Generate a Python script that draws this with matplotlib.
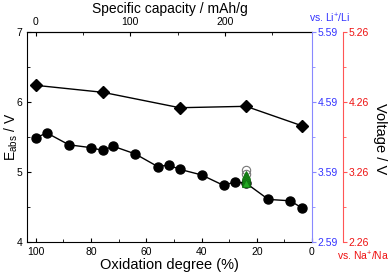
import matplotlib
matplotlib.use("Agg")
import matplotlib.pyplot as plt

plt.rcParams['font.family'] = ['Liberation Sans', 'DejaVu Sans']
plt.rcParams['mathtext.fontset'] = 'custom'
plt.rcParams['mathtext.rm'] = 'Liberation Sans'
plt.rcParams['mathtext.it'] = 'Liberation Sans'

# diamonds (upper curve)
ox_d = [100, 75.7, 47.9, 23.9, 3.5]
e_d = [6.24, 6.14, 5.92, 5.94, 5.66]

# circles (lower curve)
ox_c = [100, 96, 88, 80.1, 75.8, 72, 64, 55.9, 51.9, 47.9, 40, 32, 28, 23.8, 15.8, 7.9, 3.7]
e_c = [5.49, 5.56, 5.39, 5.35, 5.31, 5.37, 5.26, 5.08, 5.10, 5.04, 4.96, 4.81, 4.86, 4.84, 4.61, 4.59, 4.49]

# cluster at ~24 %
ox_o = [23.8, 23.8]
e_o = [5.03, 4.97]
ox_t = [23.8, 23.8, 23.8, 23.8, 23.8]
e_t = [4.96, 4.93, 4.90, 4.87, 4.84]

li_off = 1.41
na_off = 1.74
cap_per_ox = 2.92
fs_tick = 7.5

fig = plt.figure(figsize=(3.9, 2.77), dpi=100)
ax = fig.add_axes([0.0705, 0.126, 0.7295, 0.758])

ax.plot(ox_d, e_d, '-', color='black', lw=1, marker='D', ms=6.5, mfc='black', mec='black', zorder=3)
ax.plot(ox_c, e_c, '-', color='black', lw=1, marker='o', ms=6.5, mfc='black', mec='black', zorder=3)
ax.plot(ox_o, e_o, 'o', ms=6, mfc='none', mec='#777777', mew=0.8, zorder=4)
ax.plot(ox_t, e_t, '^', ms=6, mfc='#22aa22', mec='#117711', mew=0.8, zorder=5)

ax.set_xlim(103, 0)
ax.set_ylim(4, 7)
ax.set_xticks([100, 80, 60, 40, 20, 0])
ax.set_xticks(range(0, 101, 10), minor=True)
ax.set_yticks([4, 5, 6, 7])
ax.set_yticks([4.5, 5.5, 6.5], minor=True)
ax.tick_params(which='both', direction='in', labelsize=fs_tick, top=False, right=False)
ax.tick_params(which='major', length=3)
ax.tick_params(which='minor', length=2)
ax.set_xlabel('Oxidation degree (%)', fontsize=10.5, labelpad=1)
ax.set_ylabel('E$_{\\mathrm{abs}}$ / V', fontsize=10, va='center')
ax.yaxis.set_label_coords(-0.058, 0.5)
ax.spines['right'].set_visible(False)

# top axis: specific capacity
top = ax.secondary_xaxis('top', functions=(lambda x: (100 - x) * cap_per_ox,
                                           lambda c: 100 - c / cap_per_ox))
top.set_xticks([0, 100, 200])
top.set_xticks([50, 150, 250], minor=True)
top.tick_params(which='both', direction='in', labelsize=fs_tick)
top.tick_params(which='major', length=3)
top.tick_params(which='minor', length=2)
top.set_xlabel('Specific capacity / mAh/g', fontsize=10, labelpad=3)

# vs Li axis
ax_li = ax.twinx()
ax_li.set_ylim(4 - li_off, 7 - li_off)
ax_li.set_yticks([2.59, 3.59, 4.59, 5.59])
ax_li.set_yticks([3.09, 4.09, 5.09], minor=True)
for s in ['left', 'top', 'bottom']:
    ax_li.spines[s].set_visible(False)
ax_li.spines['right'].set_color('#8888ff')
ax_li.tick_params(which='both', direction='out', colors='#8888ff', labelcolor='#3333ff', labelsize=fs_tick, pad=1)
ax_li.tick_params(which='major', length=3)
ax_li.tick_params(which='minor', length=2)

# vs Na axis
ax_na = ax.twinx()
ax_na.set_ylim(4 - na_off, 7 - na_off)
ax_na.set_yticks([2.26, 3.26, 4.26, 5.26])
ax_na.set_yticks([2.76, 3.76, 4.76], minor=True)
for s in ['left', 'top', 'bottom']:
    ax_na.spines[s].set_visible(False)
ax_na.spines['right'].set_position(('axes', 1.109))
ax_na.spines['right'].set_color('#ff5555')
ax_na.tick_params(which='both', direction='out', colors='#ff5555', labelcolor='#ee1111', labelsize=fs_tick, pad=1)
ax_na.tick_params(which='major', length=3)
ax_na.tick_params(which='minor', length=2)

fig.text(0.975, 0.5, 'Voltage / V', rotation=270, fontsize=10.5, ha='center', va='center')
fig.text(0.846, 0.935, 'vs. Li$^{+}$/Li', color='#3333ff', fontsize=fs_tick, ha='center', va='center')
fig.text(0.932, 0.075, 'vs. Na$^{+}$/Na', color='#ee1111', fontsize=fs_tick, ha='center', va='center')

fig.savefig('out.png', dpi=100)
